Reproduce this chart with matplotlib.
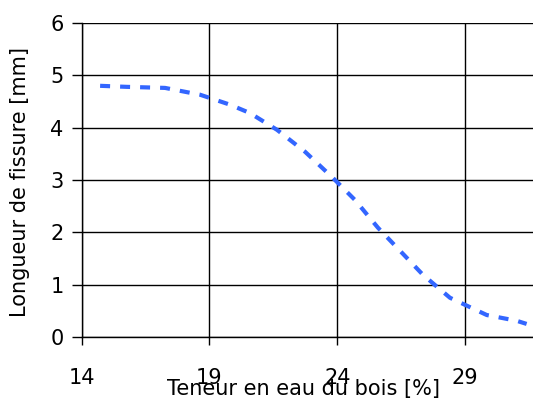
import matplotlib
matplotlib.use("Agg")
import matplotlib.pyplot as plt

# Data
moisture = [14.72, 15.77, 17.26, 18.63, 19.80, 20.58, 21.64, 22.74, 23.83,
            24.69, 25.59, 26.53, 27.35, 28.41, 29.85, 31.02, 31.41]
crack = [4.80, 4.78, 4.76, 4.63, 4.44, 4.28, 3.96, 3.54, 3.04,
         2.62, 2.09, 1.61, 1.19, 0.75, 0.42, 0.31, 0.25]
xticks = [14, 19, 24, 29]
yticks = [0, 1, 2, 3, 4, 5, 6]

plt.rcParams['font.family'] = ['DejaVu Sans']

fig = plt.figure(figsize=(5.33, 4.01), dpi=100)
ax = fig.add_axes([0.1533, 0.1596, 1.0 - 0.1533, 0.9426 - 0.1596])

ax.plot(moisture, crack, color='#3366FF', lw=3, linestyle=(0, (2.4, 2.4)),
        dash_capstyle='butt', solid_capstyle='butt', zorder=3)

ax.set_xlim(14, 31.66)
ax.set_ylim(0, 6)
ax.set_xticks(xticks)
ax.set_yticks(yticks)
ax.set_xticklabels([str(t) for t in xticks], fontsize=15)
ax.set_yticklabels([str(t) for t in yticks], fontsize=15)

ax.grid(True, color='black', linewidth=1.0)
ax.set_axisbelow(True)
for s in ['top', 'right']:
    ax.spines[s].set_visible(False)
for s in ['left', 'bottom']:
    ax.spines[s].set_color('black')
    ax.spines[s].set_linewidth(1.0)

ax.tick_params(axis='x', direction='out', length=6, width=1, pad=16, colors='black')
ax.tick_params(axis='y', direction='out', length=7, width=1, pad=6, colors='black')

fig.text(0.57, 1 - 389 / 401, 'Teneur en eau du bois [%]', ha='center', va='center', fontsize=15)
fig.text(20 / 533, 1 - 182 / 401, 'Longueur de fissure [mm]', ha='center', va='center',
         rotation=90, fontsize=15)

fig.savefig('out.png', dpi=100)
